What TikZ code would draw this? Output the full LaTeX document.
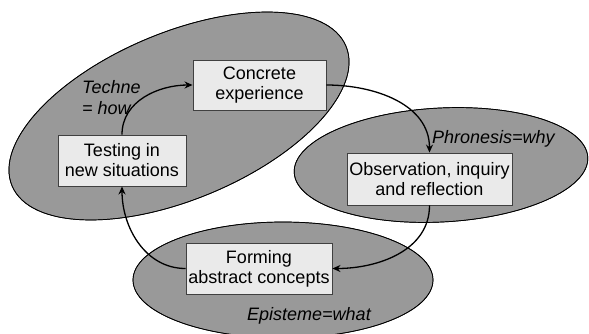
\documentclass[tikz,border=0pt]{standalone}
\usepackage{fontspec}
\setmainfont{Liberation Sans}
\usetikzlibrary{arrows.meta}
\definecolor{zonefill}{HTML}{999999}
\definecolor{boxfill}{HTML}{EAEAEA}
\definecolor{boxline}{HTML}{404040}
\begin{document}
\begin{tikzpicture}[x=1pt,y=1pt,
  zone/.style={fill=zonefill,draw=black,line width=0.7pt},
  stagebox/.style={draw=boxline,fill=boxfill,line width=0.9pt,align=center,
    inner sep=0pt,font=\fontsize{18}{20}\selectfont},
  cyclearrow/.style={line width=1.3pt,-{Stealth[length=8pt,width=7pt]}},
  mode/.style={font=\fontsize{18}{21}\selectfont\itshape,inner sep=0pt,align=left}]
\clip (0,0) rectangle (589,333);
% knowledge zones
\fill[zone] (179,217) ellipse [x radius=181, y radius=83.5, rotate=22.7];
\fill[zone] (441,168) ellipse [x radius=147, y radius=57, rotate=3];
\fill[zone] (283,53) ellipse [x radius=150, y radius=58];
\draw[zone,fill=none] (179,217) ellipse [x radius=181, y radius=83.5, rotate=22.7];
\draw[zone,fill=none] (441,168) ellipse [x radius=147, y radius=57, rotate=3];
\draw[zone,fill=none] (283,53) ellipse [x radius=150, y radius=58];
% learning-cycle stages
\node[stagebox,minimum width=133pt,minimum height=50pt] (concrete) at (259.5,248) {Concrete\\experience};
\node[stagebox,minimum width=165pt,minimum height=52pt] (observe) at (429.5,154) {Observation, inquiry\\and reflection};
\node[stagebox,minimum width=146pt,minimum height=51pt] (forming) at (259,64.5) {Forming\\abstract concepts};
\node[stagebox,minimum width=128pt,minimum height=51pt] (testing) at (122,172.5) {Testing in\\new situations};
% cycle
\draw[cyclearrow] (concrete.east) to[out=0,in=90] (observe.north);
\draw[cyclearrow] (observe.south) to[out=-90,in=0] (forming.east);
\draw[cyclearrow] (forming.west) to[out=180,in=-90] (testing.south);
\draw[cyclearrow] (testing.north) to[out=90,in=180] (concrete.west);
% zone labels
\node[mode,anchor=base west] (techne) at (82,219) {Techne\\= how};
\node[mode,anchor=base west] (phron) at (432,190) {Phronesis=why};
\node[mode,anchor=base west] (epist) at (247,13) {Episteme=what};
\end{tikzpicture}
\end{document}
